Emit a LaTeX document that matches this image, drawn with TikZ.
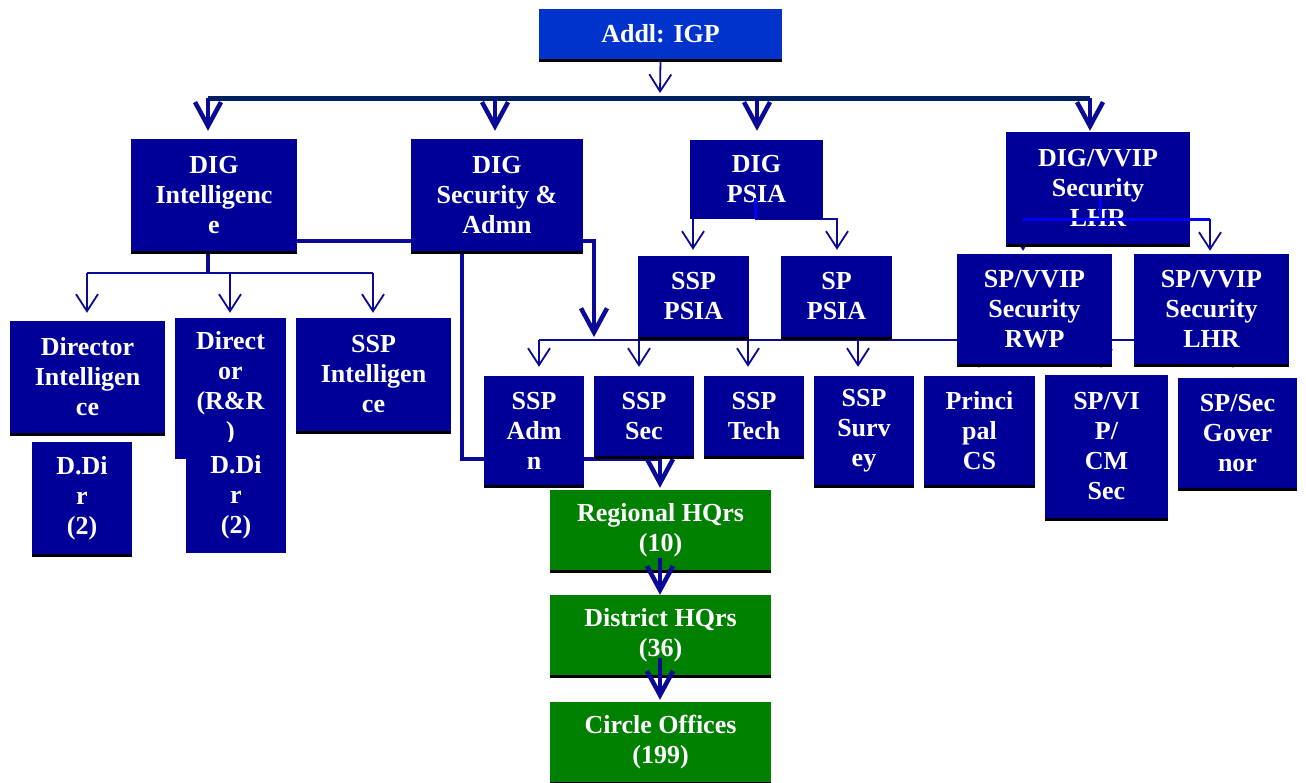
\documentclass[tikz,border=0pt]{standalone}
\usepackage{fontspec}
\setmainfont{Liberation Serif}
\usetikzlibrary{arrows.meta,shadows,calc}
\definecolor{boxblue}{RGB}{0,0,153}
\definecolor{igpblue}{RGB}{0,51,204}
\definecolor{orggreen}{RGB}{0,128,0}
\definecolor{barnavy}{RGB}{0,32,96}
\definecolor{arrblue}{RGB}{10,10,150}
\definecolor{brightblue}{RGB}{0,0,255}
\pgfdeclarelayer{background}
\pgfdeclarelayer{foreground}
\pgfsetlayers{background,main,foreground}
\begin{document}
\begin{tikzpicture}[x=1pt,y=-1pt,
  orgbox/.style={rectangle, fill=boxblue, text=white, inner sep=0pt, align=center,
    font=\bfseries\fontsize{26}{30}\selectfont},
  shad/.style={drop shadow={shadow xshift=0pt,shadow yshift=-3pt,fill=black,opacity=1}},
  greenbox/.style={orgbox, shad, fill=orggreen, minimum width=221pt, minimum height=80pt},
  thinarr/.style={draw=arrblue, line width=1.8pt, -{Straight Barb[length=17pt,width=22pt]}},
  thickarr/.style={draw=arrblue, line width=4.5pt, -{Straight Barb[length=24pt,width=26pt]}},
  thinline/.style={draw=arrblue, line width=2pt},
  medline/.style={draw=arrblue, line width=4pt},
  barline/.style={draw=barnavy, line width=5pt},
  brightline/.style={draw=brightblue, line width=3pt}]
\useasboundingbox (0,0) rectangle (1306,782);

% ---------- boxes ----------
\node[orgbox, shad, fill=igpblue, minimum width=243pt, minimum height=50pt] (igp) at (660.5,34) {Addl: IGP};

\node[orgbox, shad, minimum width=166pt, minimum height=112pt] (digint) at (214,195) {DIG\\Intelligenc\\e};
\node[orgbox, shad, minimum width=172pt, minimum height=112pt] (digsec) at (497,195) {DIG\\Security \&\\Admn};
\node[orgbox, minimum width=133pt, minimum height=79pt] (digpsia) at (756.5,179.5) {DIG\\PSIA};
\node[orgbox, shad, minimum width=184pt, minimum height=112pt] (digvvip) at (1098,188) {DIG/VVIP\\Security\\LHR};

\node[orgbox, shad, minimum width=155pt, minimum height=112pt] (dirint) at (87.5,377) {Director\\Intelligen\\ce};
\node[orgbox, minimum width=111pt, minimum height=141pt] (dirrr) at (230.5,388.5) {Direct\\or\\(R\&R\\)};
\node[orgbox, shad, minimum width=155pt, minimum height=113pt] (sspint) at (373.5,374.5) {SSP\\Intelligen\\ce};
\node[orgbox, shad, minimum width=100pt, minimum height=112pt] (ddira) at (82,498) {D.Di\\r\\(2)};
\node[orgbox, minimum width=100pt, minimum height=111pt] (ddirb) at (236,497.5) {D.Di\\r\\(2)};

\node[orgbox, shad, minimum width=111pt, minimum height=81pt] (ssppsia) at (693.5,296.5) {SSP\\PSIA};
\node[orgbox, shad, minimum width=111pt, minimum height=81pt] (sppsia) at (836.5,296.5) {SP\\PSIA};
\node[orgbox, shad, minimum width=155pt, minimum height=110pt] (rwp) at (1034.5,309) {SP/VVIP\\Security\\RWP};
\node[orgbox, shad, minimum width=155pt, minimum height=110pt] (lhr) at (1211.5,309) {SP/VVIP\\Security\\LHR};

\node[orgbox, shad, minimum width=100pt, minimum height=109pt] (sspadm) at (534,430.5) {SSP\\Adm\\n};
\node[orgbox, shad, minimum width=100pt, minimum height=80pt] (sspsec) at (644,416) {SSP\\Sec};
\node[orgbox, shad, minimum width=100pt, minimum height=80pt] (ssptech) at (754,416) {SSP\\Tech};
\node[orgbox, shad, minimum width=100pt, minimum height=109pt] (sspsurv) at (864,430.5) {SSP\\Surv\\ey};
\node[orgbox, shad, minimum width=111pt, minimum height=109pt] (princ) at (979.5,430.5) {Princi\\pal\\CS};
\node[orgbox, shad, minimum width=123pt, minimum height=143pt] (vipcm) at (1106.5,446.5) {SP/VI\\P/\\CM\\Sec};
\node[orgbox, shad, minimum width=119pt, minimum height=110pt] (gov) at (1237.5,433) {SP/Sec\\Gover\\nor};

\node[greenbox] (reg) at (660.5,530) {Regional HQrs\\(10)};
\node[greenbox] (dist) at (660.5,635) {District HQrs\\(36)};
\node[greenbox] (circ) at (660.5,742) {Circle Offices\\(199)};

% ---------- coordinates ----------
\coordinate (igpT) at (660,93);
\coordinate (barL) at (208,98);
\coordinate (barB) at (495,98);
\coordinate (barC) at (757,98);
\coordinate (barR) at (1090,98);
\coordinate (jA) at (208,273);
\coordinate (jAL) at (87,273);
\coordinate (jAM) at (230,273);
\coordinate (jAR) at (373,273);
\coordinate (eA) at (594,337);
\coordinate (fA) at (462,459);
\coordinate (fB) at (660,459);
\coordinate (gA) at (693,219);
\coordinate (g0) at (755,198);
\coordinate (gB) at (755,219);
\coordinate (gC) at (837,219);
\coordinate (h0) at (1100,197);
\coordinate (hL) at (1023,219);
\coordinate (hR) at (1210,219);
\coordinate (r3L) at (539,340);
\coordinate (r3b) at (639,340);
\coordinate (r3c) at (748,340);
\coordinate (r3d) at (858,340);
\coordinate (r3e) at (979,340);
\coordinate (r3f) at (1101,340);
\coordinate (r3R) at (1233,340);
\coordinate (kA) at (660,558);
\coordinate (kB) at (660,658);

% ---------- connectors (behind boxes) ----------
\begin{pgfonlayer}{background}
\draw[thinarr] (igp.south) -- (igpT);
\draw[barline] (barL) -- (barR);
\draw[thickarr, shorten >=8pt] (barL) -- (barL |- digint.north);
\draw[thickarr, shorten >=8pt] (barB) -- (barB |- digsec.north);
\draw[thickarr, shorten >=9pt] (barC) -- (barC |- digpsia.north);
\draw[thickarr, shorten >=1pt] (barR) -- (barR |- digvvip.north);

\draw[medline] (barL |- digint.south) -- (jA);
\draw[thinline] (jAL) -- (jAR);
\draw[thinarr, shorten >=8pt] (jAL) -- (jAL |- dirint.north);
\draw[thinarr, shorten >=5pt] (jAM) -- (jAM |- dirrr.north);
\draw[thinarr, shorten >=5pt] (jAR) -- (jAR |- sspint.north);

\draw[medline] ($(digint.south east)+(0,-10)$) -- ($(digsec.south west)+(0,-10)$);
\draw[thickarr] ($(digsec.south east)+(0,-10)$) -| (eA);
\draw[thickarr, shorten >=2pt] (fA |- digsec.south) -- (fA) -- (fB) -- (fB |- reg.north);

\draw[thinarr, shorten >=6pt] (gA) -- (gA |- ssppsia.north);
\draw[thinarr, shorten >=6pt] (gB) -- (gC) -- (gC |- sppsia.north);

\draw[thinarr, shorten >=3pt] (hL) -- (hL |- rwp.north);
\draw[thinarr, shorten >=3pt] (hR) -- (hR |- lhr.north);

\draw[thinline] (r3L) -- (r3R);
\draw[thinarr, shorten >=9pt] (r3L) -- (r3L |- sspadm.north);
\draw[thinarr, shorten >=9pt] (r3b) -- (r3b |- sspsec.north);
\draw[thinarr, shorten >=9pt] (r3c) -- (r3c |- ssptech.north);
\draw[thinarr, shorten >=9pt] (r3d) -- (r3d |- sspsurv.north);
\draw[thinarr, shorten >=8pt] (r3e) -- (r3e |- princ.north);
\draw[thinarr, shorten >=7pt] (r3f) -- (r3f |- vipcm.north);
\draw[thinarr, shorten >=10pt] (r3R) -- (r3R |- gov.north);
\end{pgfonlayer}

% ---------- overlays ----------
\begin{pgfonlayer}{foreground}
\draw[brightline] (g0) -- (gB);
\draw[brightline] (h0) -- (h0 |- hL);
\draw[brightline] (hL) -- (hR);
\draw[thickarr] (kA) -- (kA |- dist.north);
\draw[thickarr, shorten >=2pt] (kB) -- (kB |- circ.north);
\end{pgfonlayer}
\end{tikzpicture}
\end{document}
